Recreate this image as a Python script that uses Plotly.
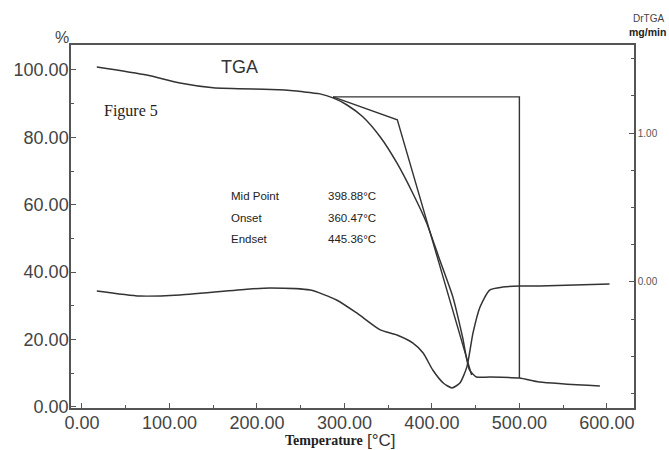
import plotly.graph_objects as go

# ---- data ----
tga_T = [17, 74, 112, 150, 226, 253, 272, 287, 303, 321, 341, 360, 378, 394,
         409, 424, 435, 443, 451, 466, 500, 523, 592]
tga_w = [100.9, 98.5, 96.1, 94.7, 94.1, 93.5, 92.9, 91.7, 89.6, 86.1, 80.1, 72.4,
         63.5, 54.6, 43.6, 32.6, 20.8, 11.0, 8.9, 8.9, 8.6, 7.4, 6.2]

dtg_T = [17, 66, 112, 192, 215, 261, 291, 314, 341, 360, 378, 390, 401, 413,
         423, 432, 440, 447, 455, 466, 481, 501, 523, 603]
dtg_v = [-0.060, -0.094, -0.087, -0.047, -0.040, -0.054, -0.121, -0.208, -0.322,
         -0.356, -0.409, -0.477, -0.591, -0.678, -0.711, -0.678, -0.570, -0.342,
         -0.168, -0.054, -0.034, -0.027, -0.027, -0.013]

# onset / endset construction lines
onset_T = [287, 360.47, 445.36]
onset_w = [92.0, 85.2, 9.5]
box_T = [287, 500, 500]
box_w = [92.0, 92.0, 8.6]

x_ticks = [0, 100, 200, 300, 400, 500, 600]
y_ticks = [0, 20, 40, 60, 80, 100]
y2_ticks = [0, 1]

labels = ["Mid Point", "Onset", "Endset"]
values = ["398.88°C", "360.47°C", "445.36°C"]

# ---- figure ----
W, H = 669, 450
L, R, T, B = 71, 35, 45, 42
pw, ph = W - L - R, H - T - B


def pp(xp, yp):
    return (xp - L) / pw, (H - B - yp) / ph


line_col = "#333333"
axis_col = "#555555"

fig = go.Figure()
fig.add_trace(go.Scatter(x=tga_T, y=tga_w, mode="lines",
                         line=dict(color=line_col, width=1.5, shape="spline", smoothing=0.6),
                         showlegend=False, hoverinfo="skip"))
fig.add_trace(go.Scatter(x=onset_T, y=onset_w, mode="lines",
                         line=dict(color=line_col, width=1.4),
                         showlegend=False, hoverinfo="skip"))
fig.add_trace(go.Scatter(x=box_T, y=box_w, mode="lines",
                         line=dict(color=line_col, width=1.4),
                         showlegend=False, hoverinfo="skip"))
fig.add_trace(go.Scatter(x=dtg_T, y=dtg_v, mode="lines", yaxis="y2",
                         line=dict(color=line_col, width=1.5, shape="spline", smoothing=0.6),
                         showlegend=False, hoverinfo="skip"))

tick_font = dict(family="Liberation Sans, Arial, sans-serif", size=18, color="#444444")

fig.update_layout(
    width=W, height=H,
    margin=dict(l=L, r=R, t=T, b=B),
    paper_bgcolor="white", plot_bgcolor="white",
    xaxis=dict(range=[-12.5, 631], tickvals=x_ticks, tickformat=".2f",
               ticks="inside", ticklen=5, tickcolor=axis_col, ticklabelstandoff=-2,
               minor=dict(dtick=50, ticks="inside", ticklen=3, tickcolor=axis_col),
               showline=True, linecolor=axis_col, linewidth=1.5, mirror=True,
               showgrid=False, zeroline=False, tickfont=tick_font),
    yaxis=dict(range=[-0.3, 107.4], tickvals=y_ticks, tickformat=".2f",
               ticks="inside", ticklen=5, tickcolor=axis_col, ticklabelstandoff=-3,
               minor=dict(dtick=10, ticks="inside", ticklen=3, tickcolor=axis_col),
               showline=True, linecolor=axis_col, linewidth=1.5,
               showgrid=False, zeroline=False, tickfont=tick_font),
    yaxis2=dict(range=[-0.846, 1.591], tickvals=y2_ticks, tickformat=".2f",
                overlaying="y", side="right",
                ticks="inside", ticklen=5, tickcolor=axis_col,
                minor=dict(dtick=0.25, ticks="inside", ticklen=3, tickcolor=axis_col),
                showline=True, linecolor=axis_col, linewidth=1.5,
                showgrid=False, zeroline=False,
                tickfont=dict(family="Liberation Sans, Arial, sans-serif", size=10, color="#555555")),
)

ann = []


def add_text(text, xp, yp, size, family="Liberation Sans, Arial, sans-serif",
             color="#333333", xanchor="center"):
    x, y = pp(xp, yp)
    ann.append(dict(text=text, x=x, y=y, xref="paper", yref="paper",
                    xanchor=xanchor, yanchor="middle", showarrow=False,
                    font=dict(family=family, size=size, color=color)))


add_text("%", 62, 37, 16, color="#444444")
add_text("DrTGA", 648, 19, 10, color="#444444")
add_text("<b>mg/min</b>", 668, 32, 10.5, color="#222222", xanchor="right")
add_text("TGA", 239, 67, 18)
add_text("Figure 5", 102, 111, 16, family="Liberation Serif, Times New Roman, serif",
         color="#222222", xanchor="left")
for i, (lab, val) in enumerate(zip(labels, values)):
    yy = 196 + i * 21.5
    add_text(lab, 229, yy, 11.5, color="#222222", xanchor="left")
    add_text(val, 326, yy, 11.5, color="#222222", xanchor="left")
add_text("<b>Temperature</b>", 324, 441, 14, family="Liberation Serif, Times New Roman, serif",
         color="#222222")
add_text("[°C]", 381, 440, 17, color="#333333")

fig.update_layout(annotations=ann)

fig.write_html("out.html")
